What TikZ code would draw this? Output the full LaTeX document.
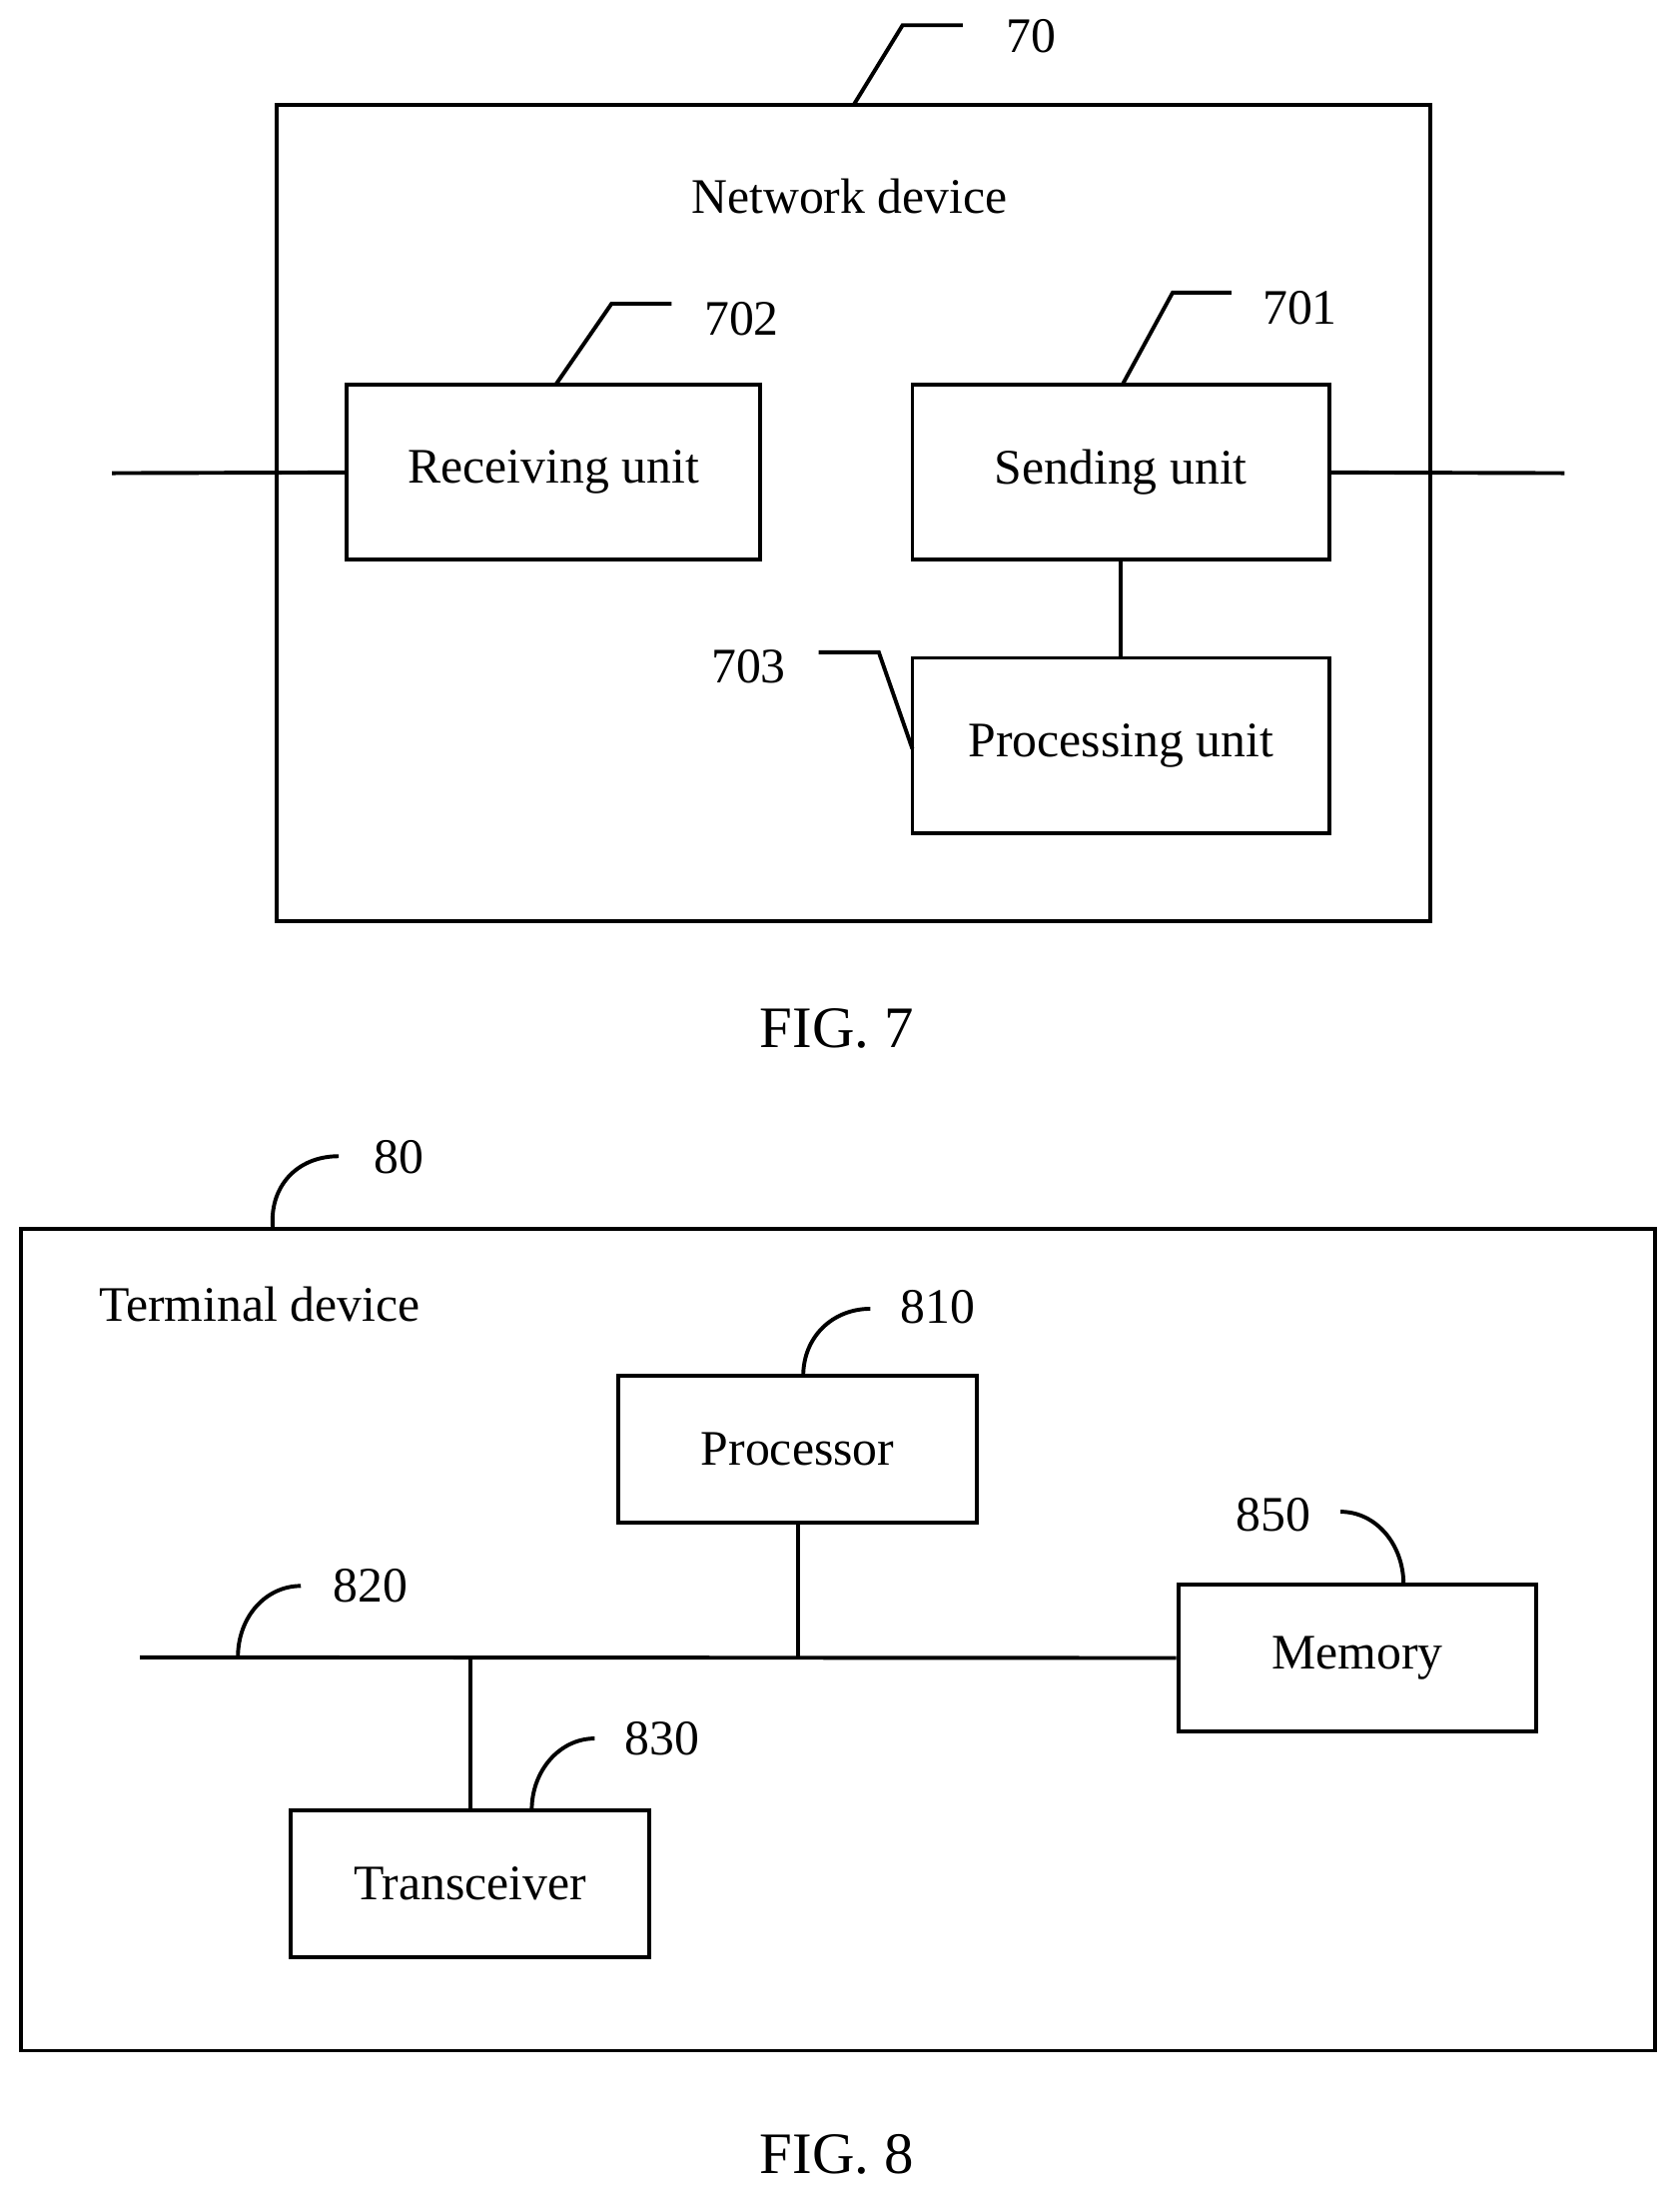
\documentclass[tikz,border=0pt]{standalone}
\usepackage{fontspec}
\setmainfont{Liberation Serif}
\begin{document}
\begin{tikzpicture}[x=1pt,y=-1pt,line width=2.8pt,
  box/.style={draw,line width=2.8pt},
  lbl/.style={font=\fontsize{35.5}{38}\selectfont},
  fig/.style={font=\fontsize{42}{46}\selectfont}]
\useasboundingbox (0,0) rectangle (1200,1571);
% FIG 7
\draw[box] (198,75) rectangle (1022,658);
\coordinate (o7) at (610,75);
\draw (o7) -- (645,18) -- (688,18);
\node[lbl] (n70) at (737,26) {70};
\node[lbl] (nd) at (607,140) {Network device};
\node[box,lbl,minimum width=295pt,minimum height=125pt] (rx) at (395.5,337.5) {Receiving unit};
\node[box,lbl,minimum width=298pt,minimum height=125pt] (tx) at (801,337.5) {Sending unit};
\node[box,lbl,minimum width=298pt,minimum height=125pt] (pu) at (801,532.5) {Processing unit};
\coordinate (inl) at (80,338);
\coordinate (outr) at (1118,338);
\draw (inl) -- (rx.west);
\draw (tx.east) -- (outr);
\draw (tx.south) -- (pu.north);
\draw (397,275) -- (437,217) -- (480,217);
\node[lbl] (n702) at (530,228) {702};
\draw (802,275) -- (838,209) -- (880,209);
\node[lbl] (n701) at (929,220) {701};
\draw (652,535) -- (628,466) -- (585,466);
\node[lbl] (n703) at (535,476) {703};
\node[fig] (f7) at (598,735) {FIG. 7};
% FIG 8
\draw[box] (15,878) rectangle (1183,1465);
\draw (195,878) .. controls (192,848) and (212,826) .. (242,826);
\node[lbl] (n80) at (285,827) {80};
\node[lbl,anchor=west] (td) at (66,932) {Terminal device};
\node[box,lbl,minimum width=256pt,minimum height=105pt] (pr) at (570,1035.5) {Processor};
\node[box,lbl,minimum width=256pt,minimum height=105pt] (me) at (970,1184.5) {Memory};
\node[box,lbl,minimum width=256pt,minimum height=105pt] (tr) at (336,1345.5) {Transceiver};
\coordinate (busl) at (100,1184);
\coordinate (bp) at (pr.south |- busl);
\coordinate (bt) at (tr.north |- busl);
\draw (busl) -- (me.west);
\draw (pr.south) -- (bp);
\draw (bt) -- (tr.north);
\draw (574,983) .. controls (574,955) and (595,935) .. (622,935);
\node[lbl] (n810) at (670,934) {810};
\draw (170,1184) .. controls (170,1155) and (190,1133) .. (215,1133);
\node[lbl] (n820) at (265,1133) {820};
\draw (1003,1132) .. controls (1003,1103) and (983,1080) .. (958,1080);
\node[lbl] (n850) at (910,1082) {850};
\draw (380,1293) .. controls (380,1265) and (400,1242) .. (425,1242);
\node[lbl] (n830) at (473,1242) {830};
\node[fig] (f8) at (598,1539) {FIG. 8};
\end{tikzpicture}
\end{document}
